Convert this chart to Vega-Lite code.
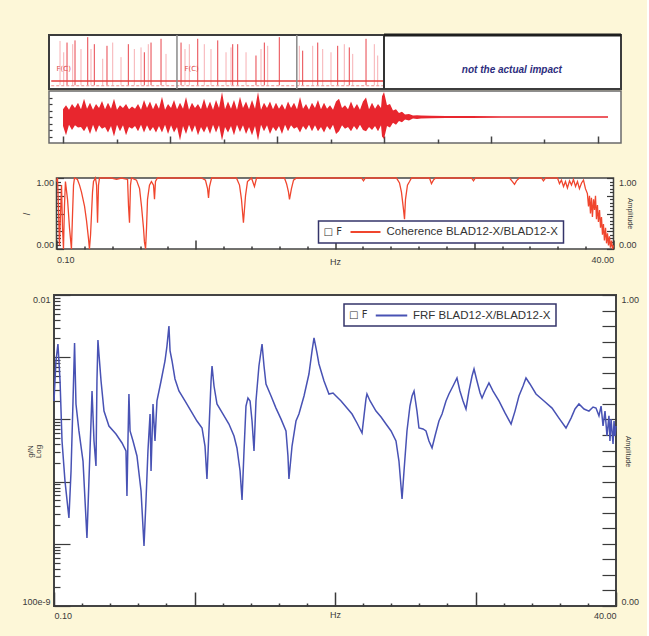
{
"$schema": "https://vega.github.io/schema/vega-lite/v6.json",
"background": "#fdf7d8",
"padding": {"left": 20, "top": 32, "right": 7, "bottom": 16},
"spacing": 0,
"bounds": "flush",
"center": true,
"resolve": {"scale": {"color": "independent"}, "legend": {"color": "independent"}},
"config": {
  "view": {"fill": "white", "stroke": "#444", "strokeWidth": 1.5},
  "axis": {"domain": false, "grid": false, "tickColor": "#3a3a3a", "tickWidth": 1.2, "labelColor": "#3a3a3a", "labelFont": "Liberation Sans", "labelFontSize": 9, "titleFont": "Liberation Sans", "titleFontSize": 9, "titleFontWeight": "normal", "titleColor": "#3a3a3a"},
  "legend": {"strokeWidth": 1.5}
},
"vconcat": [
{
 "width": 572, "height": 54,
 "view": {"stroke": "#3c3c3c", "strokeWidth": 2, "fill": "white"},
 "layer": [
  {"data": {"values": [
{"t":-0.056,"peak":0.89,"kind":"weak"},{"t":0.013,"peak":0.68,"kind":"weak"},{"t":0.075,"peak":0.86,"kind":"strong"},{"t":0.181,"peak":0.83,"kind":"weak"},{"t":0.224,"peak":0.9,"kind":"strong"},{"t":0.336,"peak":0.74,"kind":"weak"},{"t":0.462,"peak":0.96,"kind":"strong"},{"t":0.523,"peak":0.74,"kind":"weak"},{"t":0.585,"peak":0.83,"kind":"strong"},{"t":0.742,"peak":0.56,"kind":"weak"},{"t":0.822,"peak":0.8,"kind":"strong"},{"t":0.929,"peak":0.86,"kind":"weak"},{"t":1.084,"peak":0.59,"kind":"weak"},{"t":1.221,"peak":0.83,"kind":"strong"},{"t":1.333,"peak":0.74,"kind":"weak"},{"t":1.458,"peak":0.77,"kind":"weak"},{"t":1.52,"peak":0.68,"kind":"strong"},{"t":1.594,"peak":0.83,"kind":"weak"},{"t":1.645,"peak":0.86,"kind":"strong"},{"t":1.832,"peak":0.93,"kind":"strong"},{"t":1.925,"peak":0.65,"kind":"weak"},{"t":2.206,"peak":0.86,"kind":"strong"},{"t":2.28,"peak":0.74,"kind":"weak"},{"t":2.361,"peak":0.83,"kind":"weak"},{"t":2.518,"peak":0.93,"kind":"strong"},{"t":2.641,"peak":0.83,"kind":"weak"},{"t":2.766,"peak":0.74,"kind":"weak"},{"t":2.892,"peak":0.9,"kind":"strong"},{"t":3.047,"peak":0.68,"kind":"weak"},{"t":3.14,"peak":0.77,"kind":"weak"},{"t":3.172,"peak":0.83,"kind":"strong"},{"t":3.265,"peak":0.83,"kind":"strong"},{"t":3.421,"peak":0.68,"kind":"weak"},{"t":3.607,"peak":0.62,"kind":"strong"},{"t":3.701,"peak":0.74,"kind":"weak"},{"t":3.763,"peak":0.86,"kind":"strong"},{"t":3.826,"peak":0.8,"kind":"weak"},{"t":4.043,"peak":0.96,"kind":"strong"},{"t":4.417,"peak":0.8,"kind":"weak"},{"t":4.48,"peak":0.71,"kind":"strong"},{"t":4.667,"peak":0.8,"kind":"weak"},{"t":4.761,"peak":0.86,"kind":"strong"},{"t":4.854,"peak":0.74,"kind":"weak"},{"t":5.009,"peak":0.68,"kind":"weak"},{"t":5.134,"peak":0.8,"kind":"strong"},{"t":5.258,"peak":0.83,"kind":"weak"},{"t":5.351,"peak":0.77,"kind":"strong"},{"t":5.415,"peak":0.65,"kind":"weak"},{"t":5.664,"peak":0.93,"kind":"strong"},{"t":5.819,"peak":0.83,"kind":"weak"},{"t":5.882,"peak":0.62,"kind":"weak"}
  ]},
   "mark": {"type": "rule", "strokeWidth": 1},
   "encoding": {
     "x": {"field": "t", "type": "quantitative", "scale": {"domain": [-0.262, 10.43], "nice": false, "zero": false}, "axis": null},
     "y": {"field": "peak", "type": "quantitative", "scale": {"domain": [0, 1], "nice": false}, "axis": {"title": null, "labels": false, "tickSize": -3, "values": [0.1,0.2,0.3,0.4,0.5,0.6,0.7,0.8,0.9]}},
     "y2": {"datum": 0.07},
     "color": {"field": "kind", "type": "nominal", "scale": {"domain": ["strong", "weak"], "range": ["#e8454c", "#f7b0b4"]}, "legend": null}
   }},
  {"data": {"values": [{"t0": -0.22, "t1": 6.0, "level": 0.15}]},
   "mark": {"type": "rule", "color": "#e63b3b", "strokeWidth": 1.5},
   "encoding": {"x": {"field": "t0", "type": "quantitative", "axis": null}, "x2": {"field": "t1"}, "y": {"field": "level", "type": "quantitative", "axis": null}}},
  {"data": {"values": [{"t0": -0.22, "t1": 6.0, "level": 0.06}]},
   "mark": {"type": "rule", "color": "#f08f8f", "strokeWidth": 1, "strokeDash": [3, 2]},
   "encoding": {"x": {"field": "t0", "type": "quantitative", "axis": null}, "x2": {"field": "t1"}, "y": {"field": "level", "type": "quantitative", "axis": null}}},
  {"data": {"values": [{"t": 2.13}, {"t": 4.37}]},
   "mark": {"type": "rule", "color": "#8a8a8a", "strokeWidth": 1.5},
   "encoding": {"x": {"field": "t", "type": "quantitative", "axis": null}}},
  {"data": {"values": [{"t": 6.0}]},
   "mark": {"type": "rule", "color": "#333333", "strokeWidth": 2},
   "encoding": {"x": {"field": "t", "type": "quantitative", "axis": null}}},
  {"data": {"values": [{"t0": 6.0, "t1": 10.43, "level": 1}]},
   "mark": {"type": "rule", "color": "#1e1e1e", "strokeWidth": 3},
   "encoding": {"x": {"field": "t0", "type": "quantitative", "axis": null}, "x2": {"field": "t1"}, "y": {"field": "level", "type": "quantitative", "axis": null}}},
  {"data": {"values": [{"t": -0.12, "h": 0.37, "label": "F(C)"}, {"t": 2.27, "h": 0.37, "label": "F(C)"}]},
   "mark": {"type": "text", "align": "left", "color": "#e04848", "fontSize": 7, "font": "DejaVu Sans"},
   "encoding": {"x": {"field": "t", "type": "quantitative", "axis": null}, "y": {"field": "h", "type": "quantitative", "axis": null}, "text": {"field": "label"}}},
  {"data": {"values": [{"t": 8.39, "h": 0.36, "label": "not the actual impact"}]},
   "mark": {"type": "text", "color": "#2d2d7d", "font": "Liberation Sans", "fontSize": 10, "fontStyle": "italic", "fontWeight": "bold"},
   "encoding": {"x": {"field": "t", "type": "quantitative", "axis": null}, "y": {"field": "h", "type": "quantitative", "axis": null}, "text": {"field": "label"}}}
 ]
},
{"width": 10, "height": 2, "data": {"values": [{"s": 0}]}, "mark": {"type": "point", "opacity": 0}, "encoding": {}, "view": {"stroke": null, "fill": null}},
{
 "width": 572, "height": 52,
 "view": {"stroke": "#6a6a6a", "strokeWidth": 1.5, "fill": "white"},
 "data": {"values": [
{"t":0.000,"hi":0.3,"lo":-0.35},{"t":0.056,"hi":0.45,"lo":-0.7},{"t":0.112,"hi":0.28,"lo":-0.3},{"t":0.168,"hi":0.5,"lo":-0.5},{"t":0.224,"hi":0.35,"lo":-0.32},{"t":0.280,"hi":0.55,"lo":-0.4},{"t":0.336,"hi":0.3,"lo":-0.38},{"t":0.393,"hi":0.7,"lo":-0.55},{"t":0.449,"hi":0.32,"lo":-0.35},{"t":0.505,"hi":0.55,"lo":-0.65},{"t":0.561,"hi":0.28,"lo":-0.3},{"t":0.617,"hi":0.5,"lo":-0.6},{"t":0.673,"hi":0.35,"lo":-0.32},{"t":0.729,"hi":0.62,"lo":-0.45},{"t":0.785,"hi":0.3,"lo":-0.38},{"t":0.841,"hi":0.55,"lo":-0.6},{"t":0.897,"hi":0.32,"lo":-0.35},{"t":0.953,"hi":0.7,"lo":-0.75},{"t":1.009,"hi":0.28,"lo":-0.3},{"t":1.065,"hi":0.45,"lo":-0.55},{"t":1.121,"hi":0.35,"lo":-0.32},{"t":1.178,"hi":0.5,"lo":-0.7},{"t":1.234,"hi":0.3,"lo":-0.38},{"t":1.290,"hi":0.4,"lo":-0.45},{"t":1.346,"hi":0.32,"lo":-0.35},{"t":1.402,"hi":0.5,"lo":-0.55},{"t":1.458,"hi":0.28,"lo":-0.3},{"t":1.514,"hi":0.65,"lo":-0.6},{"t":1.570,"hi":0.35,"lo":-0.32},{"t":1.626,"hi":0.6,"lo":-0.55},{"t":1.682,"hi":0.3,"lo":-0.38},{"t":1.738,"hi":0.55,"lo":-0.6},{"t":1.794,"hi":0.32,"lo":-0.35},{"t":1.850,"hi":0.78,"lo":-0.6},{"t":1.907,"hi":0.28,"lo":-0.3},{"t":1.963,"hi":0.5,"lo":-0.65},{"t":2.019,"hi":0.35,"lo":-0.32},{"t":2.075,"hi":0.65,"lo":-0.6},{"t":2.131,"hi":0.3,"lo":-0.38},{"t":2.187,"hi":0.55,"lo":-0.9},{"t":2.243,"hi":0.32,"lo":-0.35},{"t":2.299,"hi":0.77,"lo":-0.65},{"t":2.355,"hi":0.28,"lo":-0.3},{"t":2.411,"hi":0.55,"lo":-0.6},{"t":2.467,"hi":0.35,"lo":-0.32},{"t":2.523,"hi":0.5,"lo":-0.7},{"t":2.579,"hi":0.3,"lo":-0.38},{"t":2.636,"hi":0.7,"lo":-0.6},{"t":2.692,"hi":0.32,"lo":-0.35},{"t":2.748,"hi":0.6,"lo":-0.65},{"t":2.804,"hi":0.28,"lo":-0.3},{"t":2.860,"hi":0.65,"lo":-0.6},{"t":2.916,"hi":0.35,"lo":-0.32},{"t":2.972,"hi":0.96,"lo":-0.9},{"t":3.028,"hi":0.3,"lo":-0.38},{"t":3.084,"hi":0.6,"lo":-0.6},{"t":3.140,"hi":0.32,"lo":-0.35},{"t":3.196,"hi":0.65,"lo":-0.7},{"t":3.252,"hi":0.28,"lo":-0.3},{"t":3.308,"hi":0.78,"lo":-0.58},{"t":3.364,"hi":0.35,"lo":-0.32},{"t":3.421,"hi":0.6,"lo":-0.65},{"t":3.477,"hi":0.3,"lo":-0.38},{"t":3.533,"hi":0.65,"lo":-0.7},{"t":3.589,"hi":0.32,"lo":-0.35},{"t":3.645,"hi":0.96,"lo":-0.9},{"t":3.701,"hi":0.28,"lo":-0.3},{"t":3.757,"hi":0.55,"lo":-0.55},{"t":3.813,"hi":0.35,"lo":-0.32},{"t":3.869,"hi":0.6,"lo":-0.65},{"t":3.925,"hi":0.3,"lo":-0.38},{"t":3.981,"hi":0.55,"lo":-0.55},{"t":4.037,"hi":0.32,"lo":-0.35},{"t":4.093,"hi":0.5,"lo":-0.65},{"t":4.150,"hi":0.28,"lo":-0.3},{"t":4.206,"hi":0.6,"lo":-0.55},{"t":4.262,"hi":0.35,"lo":-0.32},{"t":4.318,"hi":0.55,"lo":-0.45},{"t":4.374,"hi":0.3,"lo":-0.38},{"t":4.430,"hi":0.77,"lo":-0.6},{"t":4.486,"hi":0.32,"lo":-0.35},{"t":4.542,"hi":0.5,"lo":-0.5},{"t":4.598,"hi":0.28,"lo":-0.3},{"t":4.654,"hi":0.55,"lo":-0.55},{"t":4.710,"hi":0.35,"lo":-0.32},{"t":4.766,"hi":0.65,"lo":-0.55},{"t":4.822,"hi":0.3,"lo":-0.38},{"t":4.879,"hi":0.55,"lo":-0.6},{"t":4.935,"hi":0.32,"lo":-0.35},{"t":4.991,"hi":0.45,"lo":-0.5},{"t":5.047,"hi":0.28,"lo":-0.3},{"t":5.103,"hi":0.6,"lo":-0.65},{"t":5.159,"hi":0.7,"lo":-0.55},{"t":5.215,"hi":0.35,"lo":-0.32},{"t":5.271,"hi":0.45,"lo":-0.45},{"t":5.327,"hi":0.3,"lo":-0.38},{"t":5.383,"hi":0.6,"lo":-0.55},{"t":5.439,"hi":0.32,"lo":-0.35},{"t":5.495,"hi":0.5,"lo":-0.5},{"t":5.551,"hi":0.28,"lo":-0.3},{"t":5.607,"hi":0.6,"lo":-0.5},{"t":5.664,"hi":0.75,"lo":-0.55},{"t":5.720,"hi":0.3,"lo":-0.38},{"t":5.776,"hi":0.55,"lo":-0.5},{"t":5.832,"hi":0.32,"lo":-0.35},{"t":5.888,"hi":0.5,"lo":-0.55},{"t":5.944,"hi":0.35,"lo":-0.32},{"t":5.963,"hi":0.8,"lo":-0.75},{"t":6.0,"hi":0.96,"lo":-0.85},{"t":6.056,"hi":0.45,"lo":-0.35},{"t":6.112,"hi":0.5,"lo":-0.4},{"t":6.168,"hi":0.25,"lo":-0.22},{"t":6.224,"hi":0.3,"lo":-0.3},{"t":6.280,"hi":0.15,"lo":-0.15},{"t":6.336,"hi":0.2,"lo":-0.2},{"t":6.393,"hi":0.1,"lo":-0.1},{"t":6.467,"hi":0.12,"lo":-0.13},{"t":6.542,"hi":0.06,"lo":-0.06},{"t":6.617,"hi":0.07,"lo":-0.08},{"t":6.692,"hi":0.06,"lo":-0.06},{"t":6.879,"hi":0.05,"lo":-0.05},{"t":7.159,"hi":0.04,"lo":-0.04},{"t":7.626,"hi":0.035,"lo":-0.035},{"t":8.187,"hi":0.03,"lo":-0.03},{"t":8.935,"hi":0.03,"lo":-0.03},{"t":10.187,"hi":0.03,"lo":-0.03}
 ]},
 "mark": {"type": "area", "color": "#e8262e"},
 "encoding": {
   "x": {"field": "t", "type": "quantitative", "scale": {"domain": [-0.262, 10.43], "nice": false, "zero": false},
         "axis": {"title": null, "labels": false, "values": [0,1,2,3,4,5,6,7,8,9,10], "tickWidth": 1.5, "tickColor": "#444", "tickSize": {"condition": {"test": "datum.value % 2 == 0", "value": -7}, "value": -4}}},
   "y": {"field": "hi", "type": "quantitative", "scale": {"domain": [-1, 1], "nice": false}, "axis": {"title": null, "labels": false, "tickSize": -3, "values": [-0.75,-0.5,-0.25,0,0.25,0.5,0.75]}},
   "y2": {"field": "lo"}
 }
},
{"width": 10, "height": 35, "data": {"values": [{"s": 0}]}, "mark": {"type": "point", "opacity": 0}, "encoding": {}, "view": {"stroke": null, "fill": null}},
{
 "width": 557, "height": 71,
 "view": {"stroke": "#444", "strokeWidth": 1.5, "fill": "white"},
 "layer": [
  {"data": {"values": [
{"f":0.10,"c":0.95},{"f":0.17,"c":1.0},{"f":0.24,"c":0.6},{"f":0.31,"c":0.05},{"f":0.39,"c":0.5},{"f":0.46,"c":0.9},{"f":0.53,"c":0.3},{"f":0.60,"c":0.0},{"f":0.67,"c":0.6},{"f":0.74,"c":0.95},{"f":0.89,"c":0.7},{"f":1.03,"c":0.3},{"f":1.17,"c":0.0},{"f":1.25,"c":0.5},{"f":1.32,"c":0.9},{"f":1.39,"c":1.0},{"f":1.60,"c":0.98},{"f":1.75,"c":0.9},{"f":1.89,"c":0.8},{"f":2.11,"c":0.6},{"f":2.25,"c":0.4},{"f":2.39,"c":0.15},{"f":2.46,"c":0.0},{"f":2.54,"c":0.2},{"f":2.61,"c":0.5},{"f":2.68,"c":0.8},{"f":2.75,"c":0.95},{"f":2.89,"c":1.0},{"f":2.97,"c":0.9},{"f":3.04,"c":0.37},{"f":3.11,"c":0.9},{"f":3.18,"c":1.0},{"f":4.04,"c":1.0},{"f":4.40,"c":0.98},{"f":4.76,"c":1.0},{"f":5.19,"c":0.98},{"f":5.26,"c":0.6},{"f":5.33,"c":0.37},{"f":5.40,"c":0.9},{"f":5.47,"c":1.0},{"f":5.83,"c":0.97},{"f":6.05,"c":0.85},{"f":6.19,"c":0.6},{"f":6.33,"c":0.3},{"f":6.40,"c":0.1},{"f":6.48,"c":0.0},{"f":6.55,"c":0.3},{"f":6.62,"c":0.7},{"f":6.76,"c":0.9},{"f":6.90,"c":0.95},{"f":7.05,"c":0.9},{"f":7.12,"c":0.7},{"f":7.19,"c":0.95},{"f":7.33,"c":1.0},{"f":10.49,"c":1.0},{"f":10.77,"c":0.97},{"f":10.92,"c":0.85},{"f":10.99,"c":0.72},{"f":11.06,"c":0.88},{"f":11.21,"c":1.0},{"f":12.99,"c":1.0},{"f":13.21,"c":0.9},{"f":13.35,"c":0.7},{"f":13.49,"c":0.37},{"f":13.64,"c":0.75},{"f":13.78,"c":0.95},{"f":14.07,"c":1.0},{"f":14.21,"c":0.92},{"f":14.28,"c":0.88},{"f":14.43,"c":1.0},{"f":16.43,"c":1.0},{"f":16.58,"c":0.92},{"f":16.72,"c":0.8},{"f":16.79,"c":0.7},{"f":16.93,"c":0.85},{"f":17.08,"c":0.97},{"f":17.29,"c":1.0},{"f":21.95,"c":1.0},{"f":22.09,"c":0.96},{"f":22.23,"c":1.0},{"f":24.45,"c":1.0},{"f":24.67,"c":0.93},{"f":24.81,"c":0.8},{"f":24.96,"c":0.55},{"f":25.03,"c":0.42},{"f":25.10,"c":0.7},{"f":25.24,"c":0.9},{"f":25.39,"c":0.95},{"f":25.53,"c":1.0},{"f":26.82,"c":1.0},{"f":26.96,"c":0.92},{"f":27.10,"c":0.97},{"f":27.25,"c":1.0},{"f":29.83,"c":1.0},{"f":29.97,"c":0.96},{"f":30.11,"c":1.0},{"f":32.55,"c":1.0},{"f":32.76,"c":0.95},{"f":32.91,"c":0.91},{"f":33.05,"c":0.96},{"f":33.26,"c":1.0},{"f":34.84,"c":1.0},{"f":34.98,"c":0.96},{"f":35.13,"c":1.0},{"f":35.99,"c":1.0},{"f":36.13,"c":0.92},{"f":36.27,"c":0.97},{"f":36.42,"c":0.88},{"f":36.56,"c":0.95},{"f":36.70,"c":0.86},{"f":36.85,"c":0.96},{"f":36.99,"c":0.9},{"f":37.13,"c":0.98},{"f":37.28,"c":0.88},{"f":37.42,"c":0.95},{"f":37.56,"c":0.85},{"f":37.71,"c":0.93},{"f":37.85,"c":0.97},{"f":37.99,"c":0.85},{"f":38.13,"c":0.78},{"f":38.21,"c":0.6},{"f":38.28,"c":0.75},{"f":38.35,"c":0.5},{"f":38.42,"c":0.72},{"f":38.49,"c":0.45},{"f":38.57,"c":0.7},{"f":38.64,"c":0.55},{"f":38.71,"c":0.75},{"f":38.78,"c":0.42},{"f":38.85,"c":0.62},{"f":38.92,"c":0.38},{"f":39.00,"c":0.55},{"f":39.07,"c":0.3},{"f":39.14,"c":0.45},{"f":39.21,"c":0.2},{"f":39.28,"c":0.35},{"f":39.35,"c":0.12},{"f":39.43,"c":0.3},{"f":39.50,"c":0.08},{"f":39.57,"c":0.22},{"f":39.64,"c":0.05},{"f":39.71,"c":0.18},{"f":39.78,"c":0.02},{"f":39.86,"c":0.12},{"f":39.93,"c":0.0},{"f":40.00,"c":0.05}
  ]},
   "mark": {"type": "line", "strokeWidth": 1.3},
   "encoding": {
     "x": {"field": "f", "type": "quantitative", "scale": {"domain": [0.1, 40], "nice": false, "zero": false},
           "axis": {"title": "Hz", "values": [0.1,2.095,4.09,6.085,8.08,10.075,12.07,14.065,16.06,18.055,20.05,22.045,24.04,26.035,28.03,30.025,32.02,34.015,36.01,38.005,40],
                    "tickSize": {"condition": {"test": "abs((datum.value-0.1)/9.975 - round((datum.value-0.1)/9.975)) < 0.01", "value": -9}, "value": -3},
                    "tickWidth": 1.5,
                    "labelExpr": "datum.value < 0.2 ? '0.10' : (datum.value > 39.9 ? '40.00' : '')",
                    "labelFlush": true, "labelPadding": 15, "titleY": 8, "titleBaseline": "top"}},
     "y": {"field": "c", "type": "quantitative", "scale": {"domain": [0, 1], "nice": false},
           "axis": {"orient": "left", "title": "/", "titleFontSize": 9, "values": [0,0.05,0.1,0.15,0.2,0.25,0.3,0.35,0.4,0.45,0.5,0.55,0.6,0.65,0.7,0.75,0.8,0.85,0.9,0.95,1],
                    "tickSize": {"condition": {"test": "abs(datum.value*4 - round(datum.value*4)) < 0.01", "value": -7}, "value": -4},
                    "labelExpr": "datum.value < 0.01 ? '0.00' : (datum.value > 0.99 ? '1.00' : '')", "labelFlush": true, "labelPadding": 10}},
     "color": {"datum": "Coherence BLAD12-X/BLAD12-X", "type": "nominal", "scale": {"range": ["#f0462e"]},
               "legend": {"title": "□ F", "titleOrient": "left", "orient": "none", "legendX": 262, "legendY": 43, "fillColor": "white", "strokeColor": "#34346a", "padding": 5, "symbolType": "M-3,0H3", "symbolSize": 100, "symbolStrokeWidth": 2, "labelOffset": 15, "labelLimit": 0, "labelFont": "Liberation Sans", "labelFontSize": 11.5, "labelColor": "#333", "titleFont": "DejaVu Sans", "titleFontSize": 10, "titleColor": "#333", "titleFontWeight": "normal", "titlePadding": 17}}
   }},
  {"data": {"values": [{"c": 0}, {"c": 1}]},
   "mark": {"type": "point", "opacity": 0},
   "encoding": {"y": {"field": "c", "type": "quantitative",
      "axis": {"orient": "right", "title": "Amplitude", "titleFontSize": 7, "titleX": 16, "titleY": 35, "titleBaseline": "middle", "values": [0,0.05,0.1,0.15,0.2,0.25,0.3,0.35,0.4,0.45,0.5,0.55,0.6,0.65,0.7,0.75,0.8,0.85,0.9,0.95,1],
               "tickSize": {"condition": {"test": "abs(datum.value*4 - round(datum.value*4)) < 0.01", "value": -7}, "value": -4},
               "labelExpr": "datum.value < 0.01 ? '0.00' : (datum.value > 0.99 ? '1.00' : '')", "labelFlush": true, "labelPadding": 12}}}}
 ],
 "resolve": {"axis": {"y": "independent"}}
},
{"width": 10, "height": 46, "data": {"values": [{"s": 0}]}, "mark": {"type": "point", "opacity": 0}, "encoding": {}, "view": {"stroke": null, "fill": null}},
{
 "width": 562, "height": 311,
 "view": {"stroke": "#444", "strokeWidth": 2, "fill": "white"},
 "layer": [
  {"data": {"values": [
{"f":0.10,"a":1.98e-4},{"f":0.24,"a":8.69e-4},{"f":0.38,"a":1.63e-3},{"f":0.53,"a":4.14e-4},{"f":0.67,"a":4.50e-5},{"f":0.88,"a":1.02e-5},{"f":1.16,"a":2.60e-6},{"f":1.31,"a":1.48e-5},{"f":1.45,"a":1.98e-4},{"f":1.56,"a":1.69e-3},{"f":1.66,"a":1.77e-4},{"f":1.87,"a":6.52e-5},{"f":2.16,"a":2.14e-5},{"f":2.44,"a":1.24e-6},{"f":2.58,"a":1.02e-5},{"f":2.73,"a":9.42e-5},{"f":2.80,"a":2.86e-4},{"f":2.94,"a":4.50e-5},{"f":3.08,"a":1.78e-5},{"f":3.15,"a":4.14e-4},{"f":3.22,"a":1.89e-3},{"f":3.29,"a":1.13e-3},{"f":3.44,"a":4.14e-4},{"f":3.65,"a":1.36e-4},{"f":4.00,"a":7.83e-5},{"f":4.50,"a":5.82e-5},{"f":4.93,"a":4.18e-5},{"f":5.21,"a":3.10e-5},{"f":5.28,"a":5.86e-6},{"f":5.35,"a":4.50e-5},{"f":5.42,"a":2.56e-4},{"f":5.50,"a":6.52e-5},{"f":5.71,"a":4.50e-5},{"f":5.99,"a":2.58e-5},{"f":6.28,"a":7.06e-6},{"f":6.49,"a":9.23e-7},{"f":6.63,"a":4.88e-6},{"f":6.77,"a":3.10e-5},{"f":6.92,"a":1.22e-4},{"f":6.99,"a":1.48e-5},{"f":7.13,"a":1.77e-4},{"f":7.27,"a":4.50e-5},{"f":7.41,"a":1.98e-4},{"f":7.70,"a":4.14e-4},{"f":7.98,"a":8.69e-4},{"f":8.12,"a":1.51e-3},{"f":8.26,"a":3.18e-3},{"f":8.34,"a":1.26e-3},{"f":8.48,"a":8.69e-4},{"f":8.69,"a":4.47e-4},{"f":8.97,"a":2.86e-4},{"f":9.40,"a":1.98e-4},{"f":9.83,"a":1.36e-4},{"f":10.25,"a":9.42e-5},{"f":10.61,"a":7.28e-5},{"f":10.82,"a":3.73e-5},{"f":10.96,"a":1.10e-5},{"f":11.10,"a":6.52e-5},{"f":11.25,"a":4.14e-4},{"f":11.32,"a":7.23e-4},{"f":11.46,"a":3.44e-4},{"f":11.67,"a":1.77e-4},{"f":12.10,"a":1.22e-4},{"f":12.52,"a":8.43e-5},{"f":12.88,"a":5.41e-5},{"f":13.09,"a":3.47e-5},{"f":13.31,"a":1.48e-5},{"f":13.45,"a":5.06e-6},{"f":13.59,"a":3.10e-5},{"f":13.73,"a":1.64e-4},{"f":13.87,"a":2.21e-4},{"f":14.02,"a":1.98e-4},{"f":14.16,"a":9.42e-5},{"f":14.30,"a":3.10e-5},{"f":14.44,"a":1.98e-4},{"f":14.65,"a":7.23e-4},{"f":14.87,"a":1.63e-3},{"f":15.01,"a":7.23e-4},{"f":15.15,"a":3.71e-4},{"f":15.51,"a":2.38e-4},{"f":15.86,"a":1.52e-4},{"f":16.22,"a":1.01e-4},{"f":16.57,"a":6.52e-5},{"f":16.71,"a":2.58e-5},{"f":16.78,"a":1.10e-5},{"f":17.00,"a":3.73e-5},{"f":17.28,"a":9.42e-5},{"f":17.49,"a":1.22e-4},{"f":17.85,"a":2.38e-4},{"f":18.20,"a":5.37e-4},{"f":18.42,"a":1.26e-3},{"f":18.56,"a":2.04e-3},{"f":18.77,"a":1.17e-3},{"f":18.91,"a":7.78e-4},{"f":19.27,"a":4.14e-4},{"f":19.62,"a":2.56e-4},{"f":19.91,"a":2.66e-4},{"f":20.12,"a":2.38e-4},{"f":20.48,"a":1.98e-4},{"f":20.90,"a":1.52e-4},{"f":21.26,"a":1.22e-4},{"f":21.61,"a":8.75e-5},{"f":21.97,"a":6.04e-5},{"f":22.11,"a":1.14e-4},{"f":22.25,"a":2.13e-4},{"f":22.32,"a":2.56e-4},{"f":22.54,"a":1.98e-4},{"f":22.96,"a":1.36e-4},{"f":23.32,"a":1.09e-4},{"f":23.67,"a":8.43e-5},{"f":24.03,"a":6.52e-5},{"f":24.38,"a":4.50e-5},{"f":24.59,"a":2.14e-5},{"f":24.81,"a":5.25e-6},{"f":24.95,"a":1.48e-5},{"f":25.16,"a":6.52e-5},{"f":25.37,"a":1.64e-4},{"f":25.52,"a":2.38e-4},{"f":25.66,"a":2.86e-4},{"f":25.87,"a":1.36e-4},{"f":26.01,"a":7.28e-5},{"f":26.30,"a":7.02e-5},{"f":26.51,"a":6.52e-5},{"f":26.72,"a":4.50e-5},{"f":26.94,"a":3.47e-5},{"f":27.15,"a":5.41e-5},{"f":27.43,"a":9.42e-5},{"f":27.65,"a":1.22e-4},{"f":27.93,"a":1.98e-4},{"f":28.14,"a":2.56e-4},{"f":28.43,"a":3.44e-4},{"f":28.71,"a":4.63e-4},{"f":28.92,"a":2.86e-4},{"f":29.14,"a":1.98e-4},{"f":29.35,"a":1.47e-4},{"f":29.56,"a":2.86e-4},{"f":29.78,"a":4.99e-4},{"f":29.92,"a":6.46e-4},{"f":30.13,"a":4.14e-4},{"f":30.35,"a":2.66e-4},{"f":30.49,"a":2.21e-4},{"f":30.70,"a":2.86e-4},{"f":30.98,"a":3.85e-4},{"f":31.27,"a":2.86e-4},{"f":31.69,"a":1.98e-4},{"f":32.12,"a":1.27e-4},{"f":32.55,"a":8.43e-5},{"f":32.83,"a":1.36e-4},{"f":33.11,"a":2.38e-4},{"f":33.40,"a":3.44e-4},{"f":33.61,"a":4.63e-4},{"f":33.89,"a":3.71e-4},{"f":34.32,"a":2.56e-4},{"f":34.89,"a":1.98e-4},{"f":35.46,"a":1.52e-4},{"f":35.95,"a":1.05e-4},{"f":36.45,"a":7.28e-5},{"f":36.81,"a":1.05e-4},{"f":37.09,"a":1.47e-4},{"f":37.37,"a":1.77e-4},{"f":37.73,"a":1.47e-4},{"f":38.08,"a":1.36e-4},{"f":38.37,"a":1.58e-4},{"f":38.58,"a":1.52e-4},{"f":38.79,"a":1.14e-4},{"f":38.94,"a":1.64e-4},{"f":39.08,"a":7.83e-5},{"f":39.22,"a":1.36e-4},{"f":39.36,"a":5.41e-5},{"f":39.50,"a":1.14e-4},{"f":39.57,"a":4.50e-5},{"f":39.65,"a":1.01e-4},{"f":39.79,"a":4.03e-5},{"f":39.86,"a":9.42e-5},{"f":39.93,"a":5.41e-5},{"f":40.00,"a":7.83e-5}
  ]},
   "mark": {"type": "line", "strokeWidth": 1.5},
   "encoding": {
     "x": {"field": "f", "type": "quantitative", "scale": {"domain": [0.1, 40], "nice": false, "zero": false},
           "axis": {"title": "Hz", "values": [0.1,2.095,4.09,6.085,8.08,10.075,12.07,14.065,16.06,18.055,20.05,22.045,24.04,26.035,28.03,30.025,32.02,34.015,36.01,38.005,40],
                    "tickSize": {"condition": {"test": "abs((datum.value-0.1)/9.975 - round((datum.value-0.1)/9.975)) < 0.01", "value": -14}, "value": -3},
                    "tickWidth": 1.5,
                    "labelExpr": "datum.value < 0.2 ? '0.10' : (datum.value > 39.9 ? '40.00' : '')",
                    "labelFlush": true, "labelPadding": 19, "titleY": 4, "titleBaseline": "top"}},
     "y": {"field": "a", "type": "quantitative", "scale": {"type": "log", "domain": [1e-7, 1e-2], "nice": false},
           "axis": {"orient": "left", "title": ["g/N", "Log"], "titleFontSize": 8, "titleLineHeight": 8, "titleX": -24, "titleY": 156, "titleBaseline": "middle",
                    "values": [1e-7,2e-7,3e-7,4e-7,5e-7,6e-7,7e-7,8e-7,9e-7,1e-6,2e-6,3e-6,4e-6,5e-6,6e-6,7e-6,8e-6,9e-6,1e-5,2e-5,3e-5,4e-5,5e-5,6e-5,7e-5,8e-5,9e-5,1e-4,2e-4,3e-4,4e-4,5e-4,6e-4,7e-4,8e-4,9e-4,1e-3,2e-3,3e-3,4e-3,5e-3,6e-3,7e-3,8e-3,9e-3,1e-2],
                    "tickSize": {"condition": {"test": "abs(log(datum.value)/LN10 - round(log(datum.value)/LN10)) < 0.01", "value": -16}, "value": -6},
                    "labelExpr": "datum.value > 0.0099 ? '0.01' : (datum.value < 1.5e-7 ? '100e-9' : '')", "labelFlush": true, "labelPadding": 20}},
     "color": {"datum": "FRF BLAD12-X/BLAD12-X", "type": "nominal", "scale": {"range": ["#4852b4"]},
               "legend": {"title": "□ F", "titleOrient": "left", "orient": "none", "legendX": 290, "legendY": 9, "fillColor": "white", "strokeColor": "#34346a", "padding": 5, "symbolType": "M-3,0H3", "symbolSize": 110, "symbolStrokeWidth": 2, "labelOffset": 15, "labelLimit": 0, "labelFont": "Liberation Sans", "labelFontSize": 11.5, "labelColor": "#333", "titleFont": "DejaVu Sans", "titleFontSize": 10, "titleColor": "#333", "titleFontWeight": "normal", "titlePadding": 17}}
   }},
  {"data": {"values": [{"r": 0}, {"r": 1}]},
   "mark": {"type": "point", "opacity": 0},
   "encoding": {"y": {"field": "r", "type": "quantitative", "scale": {"domain": [0, 1], "nice": false},
      "axis": {"orient": "right", "title": "Amplitude", "titleFontSize": 7, "titleX": 11, "titleY": 156, "titleBaseline": "middle", "values": [0,0.05,0.1,0.15,0.2,0.25,0.3,0.35,0.4,0.45,0.5,0.55,0.6,0.65,0.7,0.75,0.8,0.85,0.9,0.95,1],
               "tickSize": -14,
               "labelExpr": "datum.value < 0.01 ? '0.00' : (datum.value > 0.99 ? '1.00' : '')", "labelFlush": true, "labelPadding": 19}}}}
 ],
 "resolve": {"scale": {"y": "independent"}, "axis": {"y": "independent"}}
}
]
}
